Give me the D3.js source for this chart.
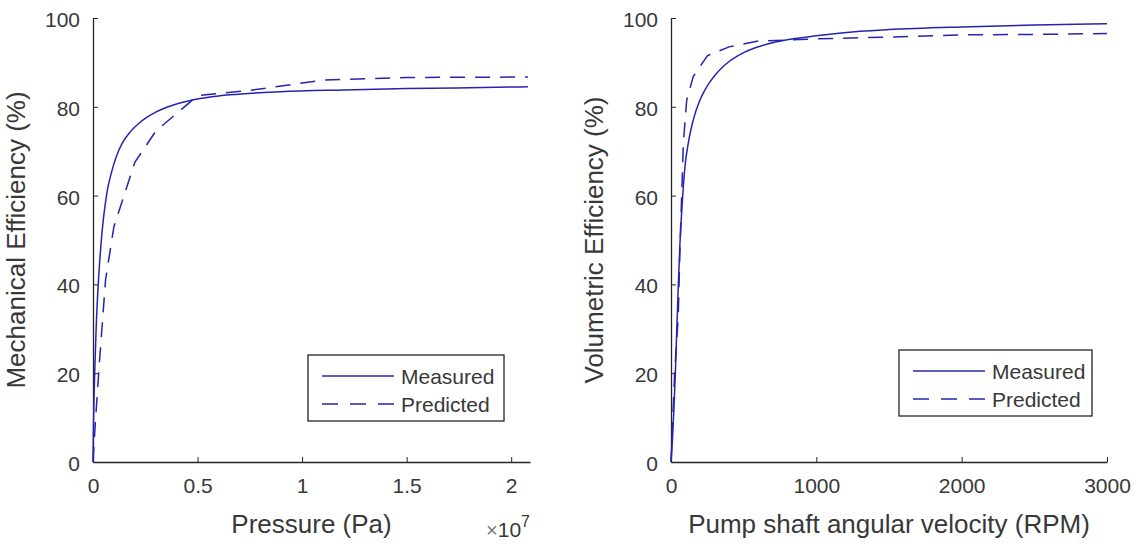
<!DOCTYPE html>
<meta charset="utf-8">
<html>
<head>
<title>Pump efficiency</title>
<script src="https://d3js.org/d3.v7.min.js"></script>
<style>
  body { margin: 0; background: #fff; }
  text { font-family: "Liberation Sans", Arial, sans-serif; fill: #383838; }
  .axis path, .axis line { stroke: #262626; }
</style>
</head>
<body>
<script>
// mechanical efficiency vs pressure (x in units of 1e7 Pa)
var mechMeasuredX = [0, 0.003, 0.008, 0.015, 0.025, 0.04, 0.066, 0.09, 0.113, 0.14, 0.177, 0.22, 0.257, 0.3, 0.353, 0.42, 0.48, 0.56, 0.655, 0.895, 1.2, 1.5, 1.8, 2.08];
var mechMeasuredY = [0, 10, 20, 30, 40, 50, 60.5, 65.5, 69, 71.8, 74.3, 76.3, 77.6, 78.8, 79.9, 80.9, 81.6, 82.2, 82.7, 83.4, 83.8, 84.1, 84.3, 84.5];
var mechPredictedX = [0, 0.01, 0.03, 0.06, 0.1, 0.2, 0.3, 0.4, 0.5, 0.75, 1.1, 1.5, 2.08];
var mechPredictedY = [0, 8, 22, 41, 53, 67.5, 74.5, 78.5, 82.5, 83.7, 86.0, 86.6, 86.7];

// volumetric efficiency vs shaft speed (RPM)
var volMeasuredX = [0, 10, 20, 30, 40, 50, 60, 73, 96, 120, 153, 200, 230, 268, 300, 350, 400, 450, 500, 580, 658, 800, 1000, 1300, 1500, 2000, 2500, 3000];
var volMeasuredY = [0, 5, 12, 20, 30, 39.5, 48, 56, 66.5, 72, 77, 81.6, 83.6, 85.6, 87, 88.8, 90.2, 91.3, 92.2, 93.3, 94.1, 95.1, 96.0, 97.0, 97.4, 98.0, 98.4, 98.7];
var volPredictedX = [0, 10, 25, 50, 62, 85, 108, 153, 250, 400, 600, 1000, 1500, 2000, 2500, 3000];
var volPredictedY = [0, 8, 20, 33, 48.5, 71.8, 81.5, 86.8, 91.5, 93.5, 94.8, 95.3, 95.7, 96.2, 96.3, 96.5];

var yTicks = [0, 20, 40, 60, 80, 100];
var mechXTicks = [0, 0.5, 1, 1.5, 2];
var volXTicks = [0, 1000, 2000, 3000];
var seriesNames = ["Measured", "Predicted"];

var lineColor = "#2424b0";
var dash = "15,10";

var svg = d3.select("body").append("svg")
  .attr("width", 1143).attr("height", 546);
svg.append("rect").attr("width", 1143).attr("height", 546).attr("fill", "#fff");

function drawPanel(opt) {
  var x = d3.scaleLinear().domain(opt.xDomain).range([opt.left, opt.right]);
  var y = d3.scaleLinear().domain([0, 100]).range([462, 18]);

  // x axis, ticks pointing in
  var gx = svg.append("g").attr("class", "axis")
    .attr("transform", "translate(0,462)")
    .call(d3.axisBottom(x).tickValues(opt.xTicks).tickSize(-5).tickPadding(16)
      .tickFormat(opt.xFormat).tickSizeOuter(0));
  gx.selectAll("text").style("font-size", "21px").attr("dy", "0.71em");

  var gy = svg.append("g").attr("class", "axis")
    .attr("transform", "translate(" + opt.left + ",0)")
    .call(d3.axisLeft(y).tickValues(yTicks).tickSize(-5).tickPadding(13).tickSizeOuter(0));
  gy.selectAll("text").style("font-size", "21px").attr("dy", "0.4em");
  svg.selectAll(".axis path").attr("stroke-width", 1.3);

  // labels
  svg.append("text")
    .attr("x", (opt.left + opt.right) / 2).attr("y", 533)
    .attr("text-anchor", "middle").style("font-size", "26px")
    .text(opt.xLabel);
  svg.append("text")
    .attr("transform", "translate(" + (opt.left - 68) + "," + 240 + ") rotate(-90)")
    .attr("text-anchor", "middle").style("font-size", "26px")
    .text(opt.yLabel);

  var smooth = d3.line()
    .curve(d3.curveMonotoneX)
    .x(function (d) { return x(d[0]); })
    .y(function (d) { return y(d[1]); });
  var straight = d3.line()
    .x(function (d) { return x(d[0]); })
    .y(function (d) { return y(d[1]); });

  var measured = d3.zip(opt.mx, opt.my);
  var predicted = d3.zip(opt.px, opt.py);

  svg.append("path").datum(measured)
    .attr("d", smooth).attr("fill", "none")
    .attr("stroke", lineColor).attr("stroke-width", 1.5);
  svg.append("path").datum(predicted)
    .attr("d", straight).attr("fill", "none")
    .attr("stroke", lineColor).attr("stroke-width", 1.5)
    .attr("stroke-dasharray", dash);

  // legend box
  var lg = opt.legend;
  svg.append("rect")
    .attr("x", lg.x).attr("y", lg.y).attr("width", lg.w).attr("height", lg.h)
    .attr("fill", "#fff").attr("stroke", "#262626").attr("stroke-width", 1.3);
  seriesNames.forEach(function (name, i) {
    var cy = lg.y + 21 + i * 28;
    svg.append("line")
      .attr("x1", lg.x + 14).attr("x2", lg.x + 86)
      .attr("y1", cy).attr("y2", cy)
      .attr("stroke", lineColor).attr("stroke-width", 1.5)
      .attr("stroke-dasharray", i === 1 ? "16,12" : null);
    svg.append("text")
      .attr("x", lg.x + 93).attr("y", cy).attr("dy", "0.36em")
      .style("font-size", "21px")
      .text(name);
  });
}

drawPanel({
  left: 93, right: 530, xDomain: [0, 2.09],
  xTicks: mechXTicks, xFormat: function (d) { return d === 0 ? "0" : String(d); },
  xLabel: "Pressure (Pa)", yLabel: "Mechanical Efficiency (%)",
  mx: mechMeasuredX, my: mechMeasuredY, px: mechPredictedX, py: mechPredictedY,
  legend: { x: 308, y: 355, w: 196, h: 66 }
});

// exponent note for the pressure axis
var expo = svg.append("text")
  .attr("x", 530).attr("y", 537).attr("text-anchor", "end")
  .style("font-size", "21px");
expo.append("tspan").text("\u00d7").style("font-size", "20px").style("fill", "#777");
expo.append("tspan").text("10");
expo.append("tspan").text("7").attr("dy", "-10").style("font-size", "16px");

drawPanel({
  left: 671, right: 1107, xDomain: [0, 3000],
  xTicks: volXTicks, xFormat: d3.format("d"),
  xLabel: "Pump shaft angular velocity (RPM)", yLabel: "Volumetric Efficiency (%)",
  mx: volMeasuredX, my: volMeasuredY, px: volPredictedX, py: volPredictedY,
  legend: { x: 899, y: 350, w: 193, h: 66 }
});
</script>
</body>
</html>
